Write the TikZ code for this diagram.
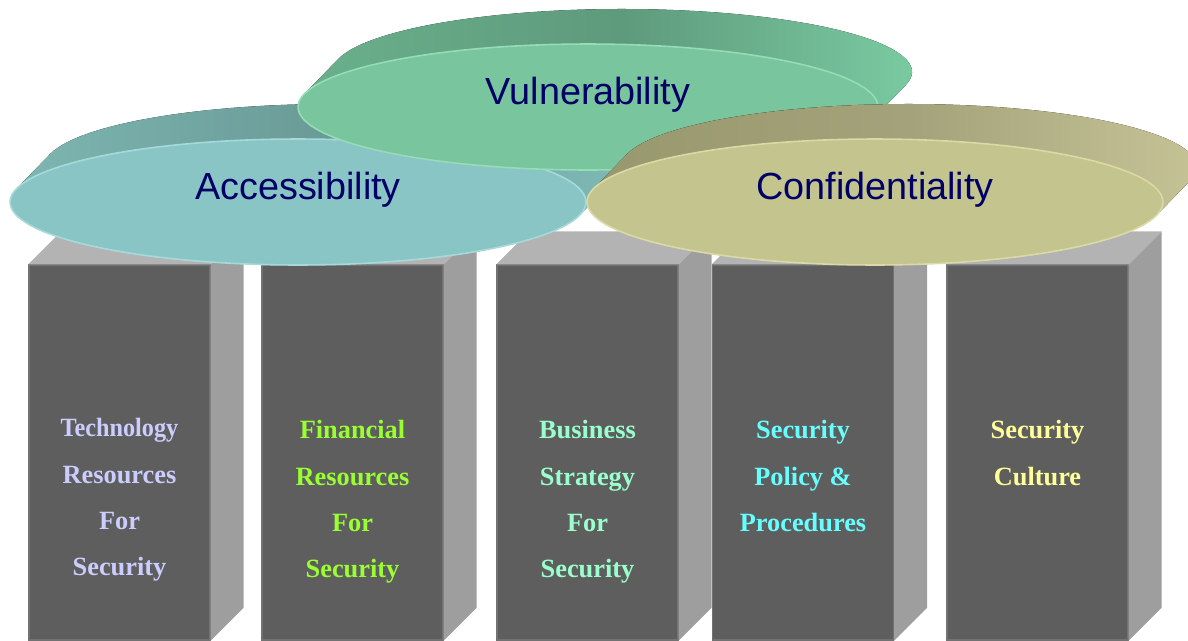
\documentclass[tikz,border=0pt]{standalone}
\usepackage{fontspec}
\setmainfont{Liberation Serif}
\newfontfamily\discfont{Liberation Sans}
\usepackage{tikz}
\usetikzlibrary{calc,shapes.geometric}

\definecolor{navy}{HTML}{000066}
\definecolor{pfront}{HTML}{5E5E5E}
\definecolor{prim}{HTML}{727272}
\definecolor{pside}{HTML}{9E9E9E}
\definecolor{ptop}{HTML}{B3B3B3}
\definecolor{accfront}{HTML}{8AC5C5}
\definecolor{accrim}{HTML}{A6DADA}
\definecolor{accleft}{HTML}{7DB6B2}
\definecolor{accmid}{HTML}{6A9A96}
\definecolor{accright}{HTML}{80BCB8}
\definecolor{vulfront}{HTML}{78C59E}
\definecolor{vulrim}{HTML}{96DCB6}
\definecolor{vulleft}{HTML}{6AB08C}
\definecolor{vulmid}{HTML}{5E9A7C}
\definecolor{vulright}{HTML}{7CCEA4}
\definecolor{conffront}{HTML}{C4C48F}
\definecolor{confrim}{HTML}{DADAA6}
\definecolor{confleft}{HTML}{98986E}
\definecolor{confmid}{HTML}{A4A27A}
\definecolor{confright}{HTML}{C8C698}
\definecolor{techtext}{HTML}{CCCCFF}
\definecolor{fintext}{HTML}{99FF33}
\definecolor{biztext}{HTML}{99FFCC}
\definecolor{poltext}{HTML}{66FFFF}
\definecolor{cultext}{HTML}{FFFF99}

\begin{document}
\begin{tikzpicture}[
    x=0.02cm, y=-0.02cm,
    pillar/.style={draw=prim, line width=0.8pt, fill=pfront, inner sep=0pt,
                   minimum width=3.62cm, minimum height=7.5cm},
    pillartop/.style={fill=ptop},
    pillarside/.style={fill=pside},
    ptext/.style={font=\fontsize{15}{26.2}\selectfont\bfseries, align=center,
                  anchor=north, inner sep=0pt},
    disc/.style={ellipse, inner sep=0pt, minimum width=11.52cm, minimum height=2.52cm,
                 fill=#1front, draw=#1rim, line width=0.9pt},
    band/.style={left color=#1left, right color=#1right, middle color=#1mid},
    disclabel/.style={font=\discfont\fontsize{21.5}{26}\selectfont, text=navy, inner sep=0pt},
]
    \useasboundingbox (0,0) rectangle (1188,640);
    \clip (0,0) rectangle (1188,640);

    % Pillars
    \node[pillar] (tech) at (119.5,452.5) {};
    \node[pillar] (fin)  at (352.5,452.5) {};
    \node[pillar] (biz)  at (587.5,452.5) {};
    \node[pillar] (pol)  at (803,452.5) {};
    \node[pillar] (cul)  at (1037.5,452.5) {};

    \foreach \p in {tech,fin,biz,pol,cul} {
        \fill[pillartop] (\p.north west) -- ++(33,-33) -- ($(\p.north east)+(33,-33)$)
            -- (\p.north east) -- cycle;
        \fill[pillarside] (\p.north east) -- ++(33,-33) -- ($(\p.south east)+(33,-33)$)
            -- (\p.south east) -- cycle;
    }

    % Pillar texts
    \node[ptext, text=techtext] (tech-t) at ($(tech.north)+(0,154)$)
        {\scalebox{0.92}[1]{Technology}\\Resources\\For\\Security};
    \node[ptext, text=fintext]  (fin-t)  at ($(fin.north)+(0,156)$)  {Financial\\Resources\\For\\Security};
    \node[ptext, text=biztext]  (biz-t)  at ($(biz.north)+(0,156)$)  {Business\\Strategy\\For\\Security};
    \node[ptext, text=poltext]  (pol-t)  at ($(pol.north)+(0,156)$)  {Security\\Policy \&\\Procedures};
    \node[ptext, text=cultext]  (cul-t)  at ($(cul.north)+(0,156)$)  {Security\\Culture};

    % Accessibility disc (side band, then top face)
    \coordinate (acc-c) at (298,202);
    \fill[band=acc] ($(acc-c)+(12:288 and 63)$) -- ++(34,-35)
        arc[start angle=12, end angle=-168, x radius=288, y radius=63]
        -- ($(acc-c)+(-168:288 and 63)$)
        arc[start angle=-168, end angle=12, x radius=288, y radius=63] -- cycle;
    \node[disc=acc] (acc) at (acc-c) {};
    \node[disclabel] (acc-l) at ($(acc)+(0,-12)$) {Accessibility};

    % Vulnerability disc
    \coordinate (vul-c) at (588,107);
    \fill[band=vul] ($(vul-c)+(12:290 and 63)$) -- ++(34,-35)
        arc[start angle=12, end angle=-168, x radius=290, y radius=63]
        -- ($(vul-c)+(-168:290 and 63)$)
        arc[start angle=-168, end angle=12, x radius=290, y radius=63] -- cycle;
    \node[disc=vul, minimum width=11.6cm] (vul) at (vul-c) {};
    \node[disclabel] (vul-l) at ($(vul)+(0,-12)$) {Vulnerability};

    % Confidentiality disc
    \coordinate (conf-c) at (875,202);
    \fill[band=conf] ($(conf-c)+(12:288 and 63)$) -- ++(34,-35)
        arc[start angle=12, end angle=-168, x radius=288, y radius=63]
        -- ($(conf-c)+(-168:288 and 63)$)
        arc[start angle=-168, end angle=12, x radius=288, y radius=63] -- cycle;
    \node[disc=conf] (conf) at (conf-c) {};
    \node[disclabel] (conf-l) at ($(conf)+(0,-12)$) {Confidentiality};
\end{tikzpicture}
\end{document}
